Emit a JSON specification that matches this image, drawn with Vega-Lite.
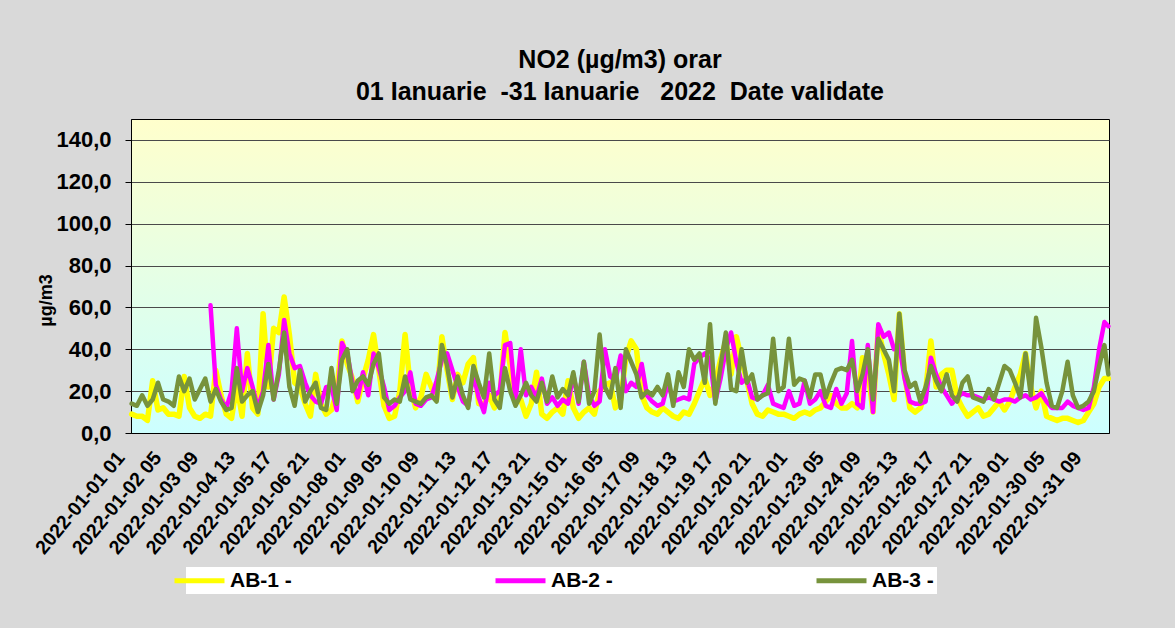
{
  "$schema": "https://vega.github.io/schema/vega-lite/v6.json",
  "width": 978,
  "height": 314,
  "autosize": "none",
  "padding": {"left": 131, "top": 119, "right": 66, "bottom": 195},
  "background": "#D9D9D9",
  "config": {"font": "Liberation Sans"},
  "title": {
    "text": "NO2 (µg/m3) orar",
    "subtitle": "01 Ianuarie \u00a0-31 Ianuarie \u00a0\u00a02022 \u00a0Date validate",
    "font": "Liberation Sans", "fontSize": 25, "fontWeight": "bold", "color": "#000000",
    "subtitleFont": "Liberation Sans", "subtitleFontSize": 25, "subtitleFontWeight": "bold", "subtitleColor": "#000000",
    "subtitlePadding": 7, "anchor": "middle", "offset": 14
  },
  "view": {
    "fill": {"gradient": "linear", "x1": 0, "y1": 0, "x2": 0, "y2": 1,
      "stops": [{"offset": 0, "color": "#FFFFCC"}, {"offset": 1, "color": "#CCFFFF"}]},
    "stroke": "#000000", "strokeWidth": 1
  },
  "data": {"values": [
    {"t":"2022-01-01 01:00","a":9,"c":14},{"t":"2022-01-01 05:00","a":8,"c":13},{"t":"2022-01-01 09:00","a":8,"c":18},{"t":"2022-01-01 13:00","a":6,"c":13},{"t":"2022-01-01 17:00","a":25,"c":16},{"t":"2022-01-01 21:00","a":11,"c":24},
    {"t":"2022-01-02 01:00","a":12,"c":16},{"t":"2022-01-02 05:00","a":9,"c":15},{"t":"2022-01-02 09:00","a":9,"c":13},{"t":"2022-01-02 13:00","a":8,"c":27},{"t":"2022-01-02 17:00","a":27,"c":20},{"t":"2022-01-02 21:00","a":12,"c":26},
    {"t":"2022-01-03 01:00","a":8,"c":16},{"t":"2022-01-03 05:00","a":7,"c":21},{"t":"2022-01-03 09:00","a":9,"c":26},{"t":"2022-01-03 13:00","a":8,"b":61,"c":15},{"t":"2022-01-03 17:00","a":30,"b":23,"c":21},{"t":"2022-01-03 21:00","a":18,"b":16,"c":15},
    {"t":"2022-01-04 01:00","a":9,"b":12,"c":11},{"t":"2022-01-04 05:00","a":7,"b":20,"c":12},{"t":"2022-01-04 09:00","a":23,"b":50,"c":31},{"t":"2022-01-04 13:00","a":8,"b":20,"c":15},{"t":"2022-01-04 17:00","a":38,"b":31,"c":18},{"t":"2022-01-04 21:00","a":12,"b":22,"c":20},
    {"t":"2022-01-05 01:00","a":9,"b":12,"c":10},{"t":"2022-01-05 05:00","a":57,"b":20,"c":18},{"t":"2022-01-05 09:00","a":22,"b":42,"c":33},{"t":"2022-01-05 13:00","a":50,"b":16,"c":16},{"t":"2022-01-05 17:00","a":48,"b":28,"c":30},{"t":"2022-01-05 21:00","a":65,"b":54,"c":48},
    {"t":"2022-01-06 01:00","a":47,"b":38,"c":22},{"t":"2022-01-06 05:00","a":24,"b":31,"c":13},{"t":"2022-01-06 09:00","a":22,"b":32,"c":30},{"t":"2022-01-06 13:00","a":14,"b":24,"c":15},{"t":"2022-01-06 17:00","a":8,"b":18,"c":20},{"t":"2022-01-06 21:00","a":28,"b":15,"c":24},
    {"t":"2022-01-07 01:00","a":14,"b":14,"c":12},{"t":"2022-01-07 05:00","a":9,"b":22,"c":11},{"t":"2022-01-07 09:00","a":11,"b":22,"c":31},{"t":"2022-01-07 13:00","a":20,"b":11,"c":14},{"t":"2022-01-07 17:00","a":44,"b":43,"c":35},{"t":"2022-01-07 21:00","a":33,"b":38,"c":40},
    {"t":"2022-01-08 01:00","a":26,"b":24,"c":20},{"t":"2022-01-08 05:00","a":15,"b":17,"c":25},{"t":"2022-01-08 09:00","a":26,"b":29,"c":27},{"t":"2022-01-08 13:00","a":35,"b":18,"c":23},{"t":"2022-01-08 17:00","a":47,"b":38,"c":33},{"t":"2022-01-08 21:00","a":30,"b":31,"c":38},
    {"t":"2022-01-09 01:00","a":13,"b":22,"c":17},{"t":"2022-01-09 05:00","a":7,"b":11,"c":14},{"t":"2022-01-09 09:00","a":8,"b":13,"c":16},{"t":"2022-01-09 13:00","a":20,"b":17,"c":15},{"t":"2022-01-09 17:00","a":47,"b":20,"c":27},{"t":"2022-01-09 21:00","a":22,"b":29,"c":16},
    {"t":"2022-01-10 01:00","a":12,"b":14,"c":15},{"t":"2022-01-10 05:00","a":17,"b":13,"c":14},{"t":"2022-01-10 09:00","a":28,"b":16,"c":17},{"t":"2022-01-10 13:00","a":22,"b":17,"c":18},{"t":"2022-01-10 17:00","a":16,"b":25,"c":15},{"t":"2022-01-10 21:00","a":46,"b":35,"c":42},
    {"t":"2022-01-11 01:00","a":30,"b":38,"c":32},{"t":"2022-01-11 05:00","a":16,"b":30,"c":17},{"t":"2022-01-11 09:00","a":28,"b":22,"c":27},{"t":"2022-01-11 13:00","a":24,"b":15,"c":18},{"t":"2022-01-11 17:00","a":33,"b":13,"c":12},{"t":"2022-01-11 21:00","a":36,"b":28,"c":32},
    {"t":"2022-01-12 01:00","a":14,"b":17,"c":24},{"t":"2022-01-12 05:00","a":14,"b":10,"c":17},{"t":"2022-01-12 09:00","a":18,"b":24,"c":38},{"t":"2022-01-12 13:00","a":12,"b":18,"c":16},{"t":"2022-01-12 17:00","a":16,"b":20,"c":12},{"t":"2022-01-12 21:00","a":48,"b":42,"c":31},
    {"t":"2022-01-13 01:00","a":32,"b":43,"c":20},{"t":"2022-01-13 05:00","a":16,"b":15,"c":13},{"t":"2022-01-13 09:00","a":16,"b":40,"c":18},{"t":"2022-01-13 13:00","a":8,"b":18,"c":24},{"t":"2022-01-13 17:00","a":14,"b":22,"c":18},{"t":"2022-01-13 21:00","a":29,"b":17,"c":15},
    {"t":"2022-01-14 01:00","a":9,"b":26,"c":24},{"t":"2022-01-14 05:00","a":7,"b":14,"c":15},{"t":"2022-01-14 09:00","a":10,"b":17,"c":27},{"t":"2022-01-14 13:00","a":12,"b":13,"c":17},{"t":"2022-01-14 17:00","a":9,"b":16,"c":21},{"t":"2022-01-14 21:00","a":25,"b":14,"c":18},
    {"t":"2022-01-15 01:00","a":12,"b":28,"c":29},{"t":"2022-01-15 05:00","a":7,"b":14,"c":15},{"t":"2022-01-15 09:00","a":10,"b":34,"c":34},{"t":"2022-01-15 13:00","a":12,"b":18,"c":14},{"t":"2022-01-15 17:00","a":9,"b":13,"c":20},{"t":"2022-01-15 21:00","a":20,"b":15,"c":47},
    {"t":"2022-01-16 01:00","a":23,"b":40,"c":22},{"t":"2022-01-16 05:00","a":24,"b":27,"c":17},{"t":"2022-01-16 09:00","a":12,"b":25,"c":31},{"t":"2022-01-16 13:00","a":16,"b":37,"c":12},{"t":"2022-01-16 17:00","a":36,"b":20,"c":40},{"t":"2022-01-16 21:00","a":44,"b":24,"c":34},
    {"t":"2022-01-17 01:00","a":40,"b":22,"c":28},{"t":"2022-01-17 05:00","a":18,"b":33,"c":17},{"t":"2022-01-17 09:00","a":12,"b":18,"c":20},{"t":"2022-01-17 13:00","a":10,"b":15,"c":18},{"t":"2022-01-17 17:00","a":9,"b":13,"c":22},{"t":"2022-01-17 21:00","a":12,"b":14,"c":18},
    {"t":"2022-01-18 01:00","a":10,"b":24,"c":28},{"t":"2022-01-18 05:00","a":8,"b":15,"c":13},{"t":"2022-01-18 09:00","a":7,"b":16,"c":29},{"t":"2022-01-18 13:00","a":10,"b":17,"c":22},{"t":"2022-01-18 17:00","a":9,"b":16,"c":40},{"t":"2022-01-18 21:00","a":14,"b":33,"c":35},
    {"t":"2022-01-19 01:00","a":20,"b":36,"c":38},{"t":"2022-01-19 05:00","a":26,"b":38,"c":24},{"t":"2022-01-19 09:00","a":18,"b":35,"c":52},{"t":"2022-01-19 13:00","a":24,"b":15,"c":14},{"t":"2022-01-19 17:00","a":35,"b":26,"c":32},{"t":"2022-01-19 21:00","a":44,"b":40,"c":48},
    {"t":"2022-01-20 01:00","a":28,"b":48,"c":21},{"t":"2022-01-20 05:00","a":46,"b":34,"c":20},{"t":"2022-01-20 09:00","a":35,"b":24,"c":40},{"t":"2022-01-20 13:00","a":25,"b":26,"c":24},{"t":"2022-01-20 17:00","a":14,"b":17,"c":28},{"t":"2022-01-20 21:00","a":9,"b":16,"c":16},
    {"t":"2022-01-21 01:00","a":8,"b":18,"c":18},{"t":"2022-01-21 05:00","a":11,"b":23,"c":19},{"t":"2022-01-21 09:00","a":10,"b":14,"c":45},{"t":"2022-01-21 13:00","a":9,"b":13,"c":20},{"t":"2022-01-21 17:00","a":9,"b":12,"c":22},{"t":"2022-01-21 21:00","a":8,"b":20,"c":45},
    {"t":"2022-01-22 01:00","a":7,"b":13,"c":23},{"t":"2022-01-22 05:00","a":9,"b":14,"c":26},{"t":"2022-01-22 09:00","a":10,"b":25,"c":25},{"t":"2022-01-22 13:00","a":9,"b":14,"c":17},{"t":"2022-01-22 17:00","a":11,"b":16,"c":28},{"t":"2022-01-22 21:00","a":12,"b":20,"c":28},
    {"t":"2022-01-23 01:00","a":15,"b":13,"c":17},{"t":"2022-01-23 05:00","a":18,"b":12,"c":24},{"t":"2022-01-23 09:00","a":14,"b":21,"c":30},{"t":"2022-01-23 13:00","a":12,"b":14,"c":31},{"t":"2022-01-23 17:00","a":12,"b":19,"c":30},{"t":"2022-01-23 21:00","a":14,"b":44,"c":35},
    {"t":"2022-01-24 01:00","a":12,"b":14,"c":20},{"t":"2022-01-24 05:00","a":36,"b":12,"c":28},{"t":"2022-01-24 09:00","a":30,"b":42,"c":40},{"t":"2022-01-24 13:00","a":10,"b":10,"c":16},{"t":"2022-01-24 17:00","a":50,"b":52,"c":45},{"t":"2022-01-24 21:00","a":38,"b":46,"c":40},
    {"t":"2022-01-25 01:00","a":28,"b":48,"c":35},{"t":"2022-01-25 05:00","a":16,"b":40,"c":20},{"t":"2022-01-25 09:00","a":57,"b":42,"c":57},{"t":"2022-01-25 13:00","a":28,"b":26,"c":30},{"t":"2022-01-25 17:00","a":12,"b":15,"c":22},{"t":"2022-01-25 21:00","a":10,"b":14,"c":24},
    {"t":"2022-01-26 01:00","a":12,"b":14,"c":15},{"t":"2022-01-26 05:00","a":20,"b":15,"c":22},{"t":"2022-01-26 09:00","a":44,"b":36,"c":32},{"t":"2022-01-26 13:00","a":22,"b":28,"c":25},{"t":"2022-01-26 17:00","a":28,"b":22,"c":20},{"t":"2022-01-26 21:00","a":30,"b":18,"c":28},
    {"t":"2022-01-27 01:00","a":30,"b":14,"c":18},{"t":"2022-01-27 05:00","a":17,"b":17,"c":15},{"t":"2022-01-27 09:00","a":12,"b":19,"c":24},{"t":"2022-01-27 13:00","a":8,"b":18,"c":27},{"t":"2022-01-27 17:00","a":10,"b":18,"c":17},{"t":"2022-01-27 21:00","a":12,"b":17,"c":16},
    {"t":"2022-01-28 01:00","a":8,"b":16,"c":15},{"t":"2022-01-28 05:00","a":9,"b":17,"c":21},{"t":"2022-01-28 09:00","a":12,"b":16,"c":16},{"t":"2022-01-28 13:00","a":15,"b":15,"c":24},{"t":"2022-01-28 17:00","a":11,"b":16,"c":32},{"t":"2022-01-28 21:00","a":15,"b":16,"c":30},
    {"t":"2022-01-29 01:00","a":22,"b":15,"c":24},{"t":"2022-01-29 05:00","a":28,"b":17,"c":17},{"t":"2022-01-29 09:00","a":38,"b":18,"c":38},{"t":"2022-01-29 13:00","a":22,"b":16,"c":18},{"t":"2022-01-29 17:00","a":12,"b":17,"c":55},{"t":"2022-01-29 21:00","a":20,"b":19,"c":41},
    {"t":"2022-01-30 01:00","a":8,"b":15,"c":24},{"t":"2022-01-30 05:00","a":7,"b":12,"c":13},{"t":"2022-01-30 09:00","a":6,"b":12,"c":12},{"t":"2022-01-30 13:00","a":7,"b":12,"c":20},{"t":"2022-01-30 17:00","a":7,"b":15,"c":34},{"t":"2022-01-30 21:00","a":6,"b":13,"c":18},
    {"t":"2022-01-31 01:00","a":5,"b":12,"c":12},{"t":"2022-01-31 05:00","a":6,"b":11,"c":13},{"t":"2022-01-31 09:00","a":10,"b":12,"c":15},{"t":"2022-01-31 13:00","a":14,"b":22,"c":20},{"t":"2022-01-31 17:00","a":22,"b":40,"c":32},{"t":"2022-01-31 21:00","a":26,"b":53,"c":42},
    {"t":"2022-02-01 00:00","a":26,"b":51,"c":28}
  ]},
  "transform": [
    {"fold": ["a", "b", "c"], "as": ["key", "value"]},
    {"filter": "isValid(datum.value)"}
  ],
  "encoding": {
    "x": {
      "field": "t", "type": "temporal",
      "scale": {"domain": [
        {"year": 2022, "month": 1, "date": 1, "hours": 0, "minutes": 30},
        {"year": 2022, "month": 2, "date": 1, "hours": 0, "minutes": 30}]},
      "axis": {
        "title": null, "grid": false, "ticks": false,
        "domainColor": "#000000", "domainWidth": 1,
        "format": "%Y-%m-%d %H", "labelAngle": -50, "labelAlign": "right", "labelBaseline": "middle",
        "labelFont": "Liberation Sans", "labelFontSize": 19.5, "labelFontWeight": "bold", "labelColor": "#000000",
        "labelPadding": 21, "labelOffset": -11, "labelOverlap": false, "labelBound": false, "labelFlush": false,
        "values": [
          {"year":2022,"month":1,"date":1,"hours":1},{"year":2022,"month":1,"date":2,"hours":5},{"year":2022,"month":1,"date":3,"hours":9},
          {"year":2022,"month":1,"date":4,"hours":13},{"year":2022,"month":1,"date":5,"hours":17},{"year":2022,"month":1,"date":6,"hours":21},
          {"year":2022,"month":1,"date":8,"hours":1},{"year":2022,"month":1,"date":9,"hours":5},{"year":2022,"month":1,"date":10,"hours":9},
          {"year":2022,"month":1,"date":11,"hours":13},{"year":2022,"month":1,"date":12,"hours":17},{"year":2022,"month":1,"date":13,"hours":21},
          {"year":2022,"month":1,"date":15,"hours":1},{"year":2022,"month":1,"date":16,"hours":5},{"year":2022,"month":1,"date":17,"hours":9},
          {"year":2022,"month":1,"date":18,"hours":13},{"year":2022,"month":1,"date":19,"hours":17},{"year":2022,"month":1,"date":20,"hours":21},
          {"year":2022,"month":1,"date":22,"hours":1},{"year":2022,"month":1,"date":23,"hours":5},{"year":2022,"month":1,"date":24,"hours":9},
          {"year":2022,"month":1,"date":25,"hours":13},{"year":2022,"month":1,"date":26,"hours":17},{"year":2022,"month":1,"date":27,"hours":21},
          {"year":2022,"month":1,"date":29,"hours":1},{"year":2022,"month":1,"date":30,"hours":5},{"year":2022,"month":1,"date":31,"hours":9}
        ]
      }
    },
    "y": {
      "field": "value", "type": "quantitative",
      "scale": {"domain": [0, 150], "nice": false, "zero": true},
      "axis": {
        "values": [0, 20, 40, 60, 80, 100, 120, 140],
        "labelExpr": "replace(format(datum.value, '.1f'), '.', ',')",
        "labelFont": "Liberation Sans", "labelFontSize": 22, "labelFontWeight": "bold", "labelColor": "#000000",
        "labelPadding": 14, "tickSize": 6, "tickColor": "#000000", "domainColor": "#000000",
        "grid": true, "gridColor": "#4A4A4A", "gridWidth": 1,
        "title": "µg/m3", "titleFont": "Liberation Sans", "titleFontSize": 18, "titleFontWeight": "bold", "titleColor": "#000000",
        "titlePadding": 0, "titleY": 181
      }
    },
    "color": {
      "field": "key", "type": "nominal",
      "scale": {"domain": ["a", "b", "c"], "range": ["#FFFF00", "#FF00FF", "#77933C"]},
      "legend": {
        "title": null, "orient": "none", "legendX": 55, "legendY": 448, "direction": "horizontal",
        "fillColor": "#FFFFFF", "padding": 3,
        "symbolType": "M-5,0H5", "symbolSize": 100, "symbolStrokeWidth": 5,
        "labelFont": "Liberation Sans", "labelFontSize": 21, "labelFontWeight": "bold", "labelColor": "#000000",
        "labelOffset": 20, "columnPadding": 193,
        "labelExpr": "datum.label == 'a' ? 'AB-1 -' : datum.label == 'b' ? 'AB-2 -' : 'AB-3 -'"
      }
    }
  },
  "layer": [
    {"transform": [{"filter": "datum.key == 'a'"}], "mark": {"type": "line", "strokeWidth": 5.5, "strokeJoin": "round", "strokeCap": "round"}},
    {"transform": [{"filter": "datum.key == 'b'"}], "mark": {"type": "line", "strokeWidth": 4.5, "strokeJoin": "round", "strokeCap": "round"}},
    {"transform": [{"filter": "datum.key == 'c'"}], "mark": {"type": "line", "strokeWidth": 4.5, "strokeJoin": "round", "strokeCap": "round"}}
  ]
}
